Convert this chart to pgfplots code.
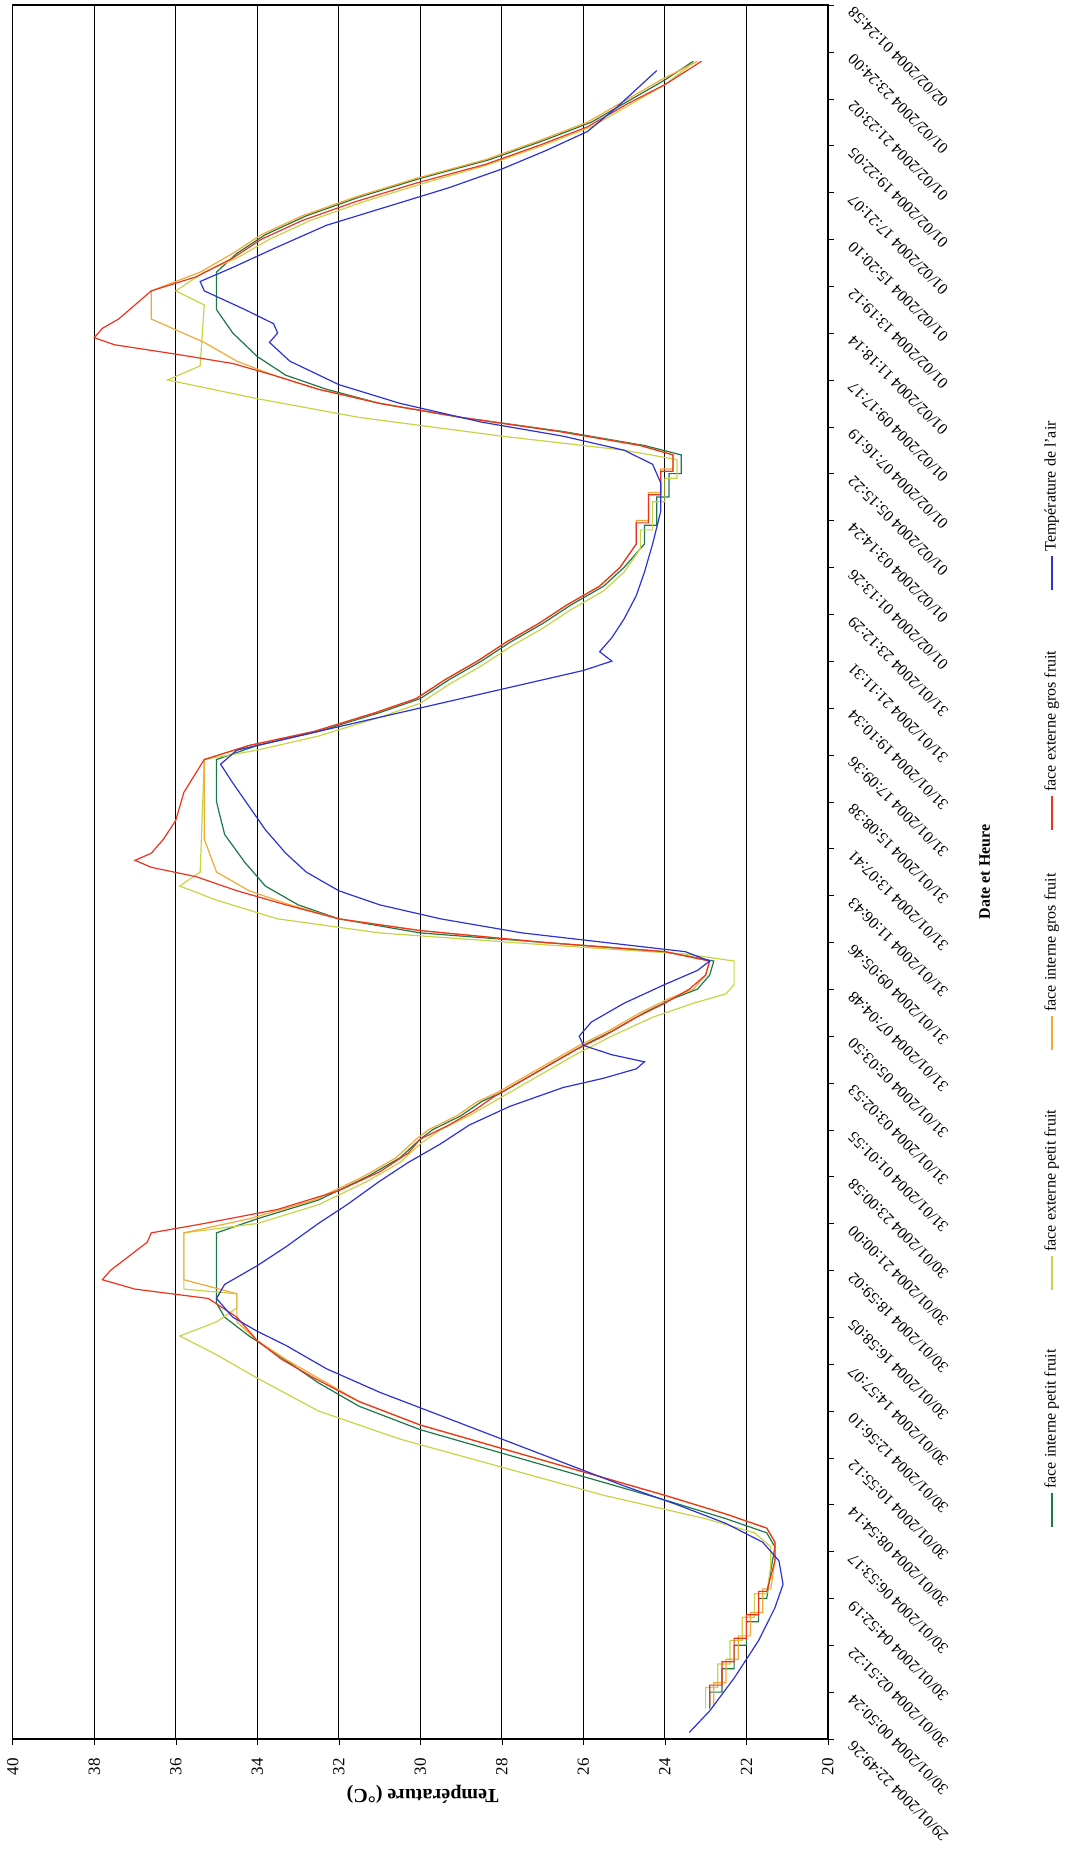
\documentclass[border=0pt]{standalone}
\usepackage{pgfplots}
\pgfplotsset{compat=1.18}
\usepackage{fontspec}
\setmainfont{Liberation Serif}
\definecolor{cgreen}{RGB}{30,120,70}
\definecolor{cyell}{RGB}{200,212,70}
\definecolor{corange}{RGB}{244,170,50}
\definecolor{cred}{RGB}{238,50,30}
\definecolor{cblue}{RGB}{45,50,215}
\begin{document}
\begin{tikzpicture}[x=0.5pt,y=0.5pt]
\useasboundingbox (-12.7,-115) rectangle (1054.3,1739);
\begin{axis}[
  at={(0,0)}, anchor=south west,
  scale only axis, width=407.6pt, height=867pt,
  xmin=20, xmax=40, x dir=reverse,
  ymin=0, ymax=37,
  xtick={20,22,...,40},
  xtick pos=bottom, ytick pos=right,
  xmajorgrids, major grid style={black, line width=0.6pt},
  axis line style={black, line width=0.8pt},
  /pgf/number format/assume math mode=true,
  xticklabel style={yshift=-3pt, rotate=90, anchor=east, font=\fontsize{8.5}{10}\selectfont},
  ytick={0,...,37},
  yticklabel pos=right,
  yticklabels={29/01/2004 22:49:26,30/01/2004 00:50:24,30/01/2004 02:51:22,30/01/2004 04:52:19,30/01/2004 06:53:17,30/01/2004 08:54:14,30/01/2004 10:55:12,30/01/2004 12:56:10,30/01/2004 14:57:07,30/01/2004 16:58:05,30/01/2004 18:59:02,30/01/2004 21:00:00,30/01/2004 23:00:58,31/01/2004 01:01:55,31/01/2004 03:02:53,31/01/2004 05:03:50,31/01/2004 07:04:48,31/01/2004 09:05:46,31/01/2004 11:06:43,31/01/2004 13:07:41,31/01/2004 15:08:38,31/01/2004 17:09:36,31/01/2004 19:10:34,31/01/2004 21:11:31,31/01/2004 23:12:29,01/02/2004 01:13:26,01/02/2004 03:14:24,01/02/2004 05:15:22,01/02/2004 07:16:19,01/02/2004 09:17:17,01/02/2004 11:18:14,01/02/2004 13:19:12,01/02/2004 15:20:10,01/02/2004 17:21:07,01/02/2004 19:22:05,01/02/2004 21:23:02,01/02/2004 23:24:00,02/02/2004 01:24:58},
  yticklabel style={xshift=6pt, anchor=east, rotate=135, font=\fontsize{8}{9}\selectfont},
  tick align=outside, major tick length=3pt, tick style={black},
  clip=false,
]
% face interne petit fruit
\addplot[cgreen, line width=0.6pt] coordinates {
(22.9,0.65)(22.9,1.0)(22.6,1.0)(22.6,1.5)(22.3,1.5)(22.3,2.0)(22.0,2.0)(22.0,2.5)(21.7,2.5)(21.7,3.0)(21.5,3.0)(21.4,3.6)(21.3,4.1)(21.5,4.4)
(22.5,4.7)(24.0,5.1)(26.0,5.6)(28.0,6.1)(30.0,6.6)(31.5,7.1)(32.5,7.6)(33.0,7.9)(33.5,8.2)(34.2,8.6)(34.8,9.0)(35.0,9.3)(35.0,10.8)
(34.0,11.1)(32.5,11.5)(31.3,12.0)(30.5,12.4)(30.0,12.8)(29.7,13.0)(29.0,13.3)(28.5,13.6)(28.0,13.8)(27.4,14.1)(26.8,14.4)(26.0,14.8)(25.3,15.1)(24.5,15.5)(23.8,15.8)(23.2,16.0)(22.9,16.3)(22.8,16.6)
(24.0,16.8)(27.0,17.0)(30.0,17.2)(32.0,17.5)(33.0,17.8)(33.8,18.2)(34.3,18.7)(34.8,19.3)(35.0,20.0)(35.0,20.9)
(34.0,21.2)(32.5,21.5)(31.0,21.9)(30.0,22.2)(29.3,22.6)(28.5,23.0)(27.8,23.4)(27.0,23.8)(26.3,24.2)(25.5,24.6)(25.0,25.0)(24.5,25.5)(24.5,25.9)(24.2,25.9)(24.2,26.5)(23.9,26.5)(23.9,27.0)(23.6,27.0)(23.6,27.4)
(24.5,27.6)(26.5,27.9)(29.0,28.2)(31.0,28.5)(32.3,28.8)(33.3,29.1)(34.0,29.5)(34.6,30.0)(35.0,30.5)(35.0,31.3)
(34.5,31.7)(33.8,32.1)(32.8,32.5)(31.5,32.9)(30.0,33.3)(28.3,33.7)(27.0,34.1)(25.8,34.5)(24.8,35.0)(24.0,35.4)(23.3,35.8)};
% face externe petit fruit
\addplot[cyell, line width=0.6pt] coordinates {
(23.0,0.65)(23.0,1.1)(22.7,1.1)(22.7,1.6)(22.4,1.6)(22.4,2.1)(22.1,2.1)(22.1,2.6)(21.8,2.6)(21.8,3.1)(21.5,3.1)(21.4,3.7)(21.4,4.1)(21.8,4.4)
(23.0,4.7)(25.5,5.2)(28.0,5.8)(30.5,6.4)(32.5,7.0)(34.0,7.7)(35.0,8.2)(35.9,8.6)(35.0,8.9)(34.5,9.2)(34.5,9.5)(35.8,9.6)(35.8,10.8)
(34.0,11.0)(32.5,11.4)(31.3,11.9)(30.5,12.3)(30.0,12.7)(29.5,13.0)(28.8,13.3)(28.2,13.6)(27.6,13.9)(27.0,14.2)(26.2,14.6)(25.3,15.0)(24.3,15.4)(23.3,15.7)(22.5,15.9)(22.3,16.1)(22.3,16.6)
(23.5,16.75)(27.0,16.95)(31.0,17.2)(33.5,17.5)(35.0,17.9)(35.9,18.2)(35.4,18.5)(35.3,20.9)
(34.0,21.1)(32.5,21.4)(31.0,21.8)(30.0,22.1)(29.3,22.5)(28.5,22.9)(27.8,23.3)(27.0,23.7)(26.3,24.1)(25.5,24.5)(25.0,24.9)(24.6,25.4)(24.6,25.8)(24.3,25.8)(24.3,26.4)(24.0,26.4)(24.0,26.9)(23.7,26.9)(23.7,27.3)
(25.0,27.5)(28.0,27.8)(31.5,28.2)(34.0,28.6)(36.2,29.0)(35.4,29.3)(35.3,30.6)(36.0,30.9)(35.3,31.3)
(34.5,31.6)(33.7,32.0)(32.7,32.4)(31.4,32.8)(29.9,33.2)(28.3,33.6)(27.0,34.0)(25.8,34.4)(24.8,34.9)(24.0,35.3)(23.4,35.7)};
% face interne gros fruit
\addplot[corange, line width=0.6pt] coordinates {
(22.8,0.7)(22.8,1.2)(22.5,1.2)(22.5,1.7)(22.2,1.7)(22.2,2.2)(21.9,2.2)(21.9,2.7)(21.6,2.7)(21.6,3.2)(21.4,3.2)(21.3,3.8)(21.3,4.2)(21.5,4.5)
(22.5,4.8)(24.0,5.2)(26.0,5.7)(28.0,6.2)(30.0,6.7)(31.5,7.2)(32.5,7.7)(33.3,8.1)(34.0,8.5)(34.5,8.9)(34.5,9.5)(35.8,9.8)(35.8,10.8)
(34.2,11.1)(32.6,11.5)(31.4,12.0)(30.6,12.4)(30.1,12.8)(29.8,13.0)(29.1,13.3)(28.6,13.6)(28.1,13.8)(27.5,14.1)(26.9,14.4)(26.1,14.8)(25.4,15.1)(24.6,15.5)(23.9,15.8)(23.3,16.0)(23.0,16.3)(22.9,16.6)
(24.0,16.8)(27.0,17.0)(30.0,17.25)(32.0,17.5)(33.2,17.8)(34.2,18.1)(35.0,18.5)(35.3,19.2)(35.3,20.9)
(34.2,21.2)(32.6,21.5)(31.1,21.9)(30.1,22.2)(29.4,22.6)(28.6,23.0)(27.9,23.4)(27.1,23.8)(26.4,24.2)(25.6,24.6)(25.1,25.0)(24.7,25.5)(24.7,26.0)(24.4,26.0)(24.4,26.6)(24.1,26.6)(24.1,27.1)(23.8,27.1)(23.8,27.4)
(24.6,27.6)(26.6,27.9)(29.0,28.2)(31.0,28.5)(32.5,28.8)(33.6,29.1)(34.5,29.4)(35.3,29.8)(36.6,30.3)(36.6,30.9)(35.4,31.3)
(34.6,31.7)(33.9,32.1)(32.9,32.5)(31.6,32.9)(30.1,33.3)(28.4,33.7)(27.1,34.1)(25.9,34.5)(24.9,35.0)(24.1,35.4)(23.2,35.8)};
% face externe gros fruit
\addplot[cred, line width=0.6pt] coordinates {
(22.9,0.7)(22.9,1.15)(22.6,1.15)(22.6,1.65)(22.3,1.65)(22.3,2.15)(22.0,2.15)(22.0,2.65)(21.7,2.65)(21.7,3.15)(21.5,3.15)(21.3,3.8)(21.3,4.2)(21.5,4.5)
(22.5,4.8)(24.0,5.2)(26.0,5.7)(28.0,6.2)(30.0,6.7)(31.5,7.2)(32.6,7.7)(33.4,8.1)(34.0,8.5)(34.5,9.0)(35.2,9.4)(37.0,9.6)(37.8,9.8)(37.6,10.0)(37.3,10.2)(37.0,10.4)(36.7,10.6)(36.6,10.8)
(35.3,11.0)(33.5,11.3)(32.0,11.7)(31.0,12.1)(30.3,12.5)(30.0,12.8)(29.3,13.1)(28.7,13.4)(28.2,13.7)(27.6,14.0)(27.0,14.3)(26.2,14.7)(25.5,15.0)(24.7,15.4)(24.0,15.7)(23.4,16.0)(23.0,16.3)(22.9,16.6)
(24.0,16.8)(27.0,17.0)(30.0,17.25)(32.0,17.5)(33.3,17.8)(34.5,18.1)(35.5,18.4)(36.6,18.6)(37.0,18.75)(36.6,18.9)(36.3,19.2)(36.0,19.6)(35.8,20.2)(35.3,20.9)
(34.2,21.2)(32.6,21.5)(31.1,21.9)(30.1,22.2)(29.4,22.6)(28.6,23.0)(27.9,23.4)(27.1,23.8)(26.4,24.2)(25.6,24.6)(25.1,25.0)(24.7,25.5)(24.7,25.95)(24.4,25.95)(24.4,26.55)(24.1,26.55)(24.1,27.05)(23.8,27.05)(23.8,27.4)
(24.6,27.6)(26.6,27.9)(29.0,28.2)(31.0,28.5)(32.5,28.8)(33.6,29.1)(34.6,29.35)(36.0,29.55)(37.5,29.75)(38.0,29.9)(37.8,30.1)(37.4,30.3)(37.0,30.6)(36.6,30.9)(35.5,31.2)
(34.6,31.6)(33.9,32.0)(32.9,32.4)(31.6,32.8)(30.1,33.2)(28.4,33.6)(27.1,34.0)(25.9,34.4)(24.9,34.9)(24.0,35.3)(23.1,35.8)};
% Temperature de l'air
\addplot[cblue, line width=0.6pt] coordinates {
(23.4,0.14)(22.9,0.6)(22.3,1.3)(21.7,2.1)(21.3,2.8)(21.1,3.3)(21.2,3.8)(21.6,4.2)(22.5,4.6)(23.7,5.0)(25.0,5.4)(26.5,5.9)(28.0,6.4)(29.5,6.9)(31.0,7.4)(32.3,7.9)(33.3,8.4)(34.0,8.7)(34.6,9.0)(35.0,9.4)(34.8,9.7)(34.0,10.1)(33.3,10.5)(32.5,11.0)(31.8,11.4)(31.0,11.9)(30.3,12.3)(29.5,12.7)(28.8,13.1)(27.8,13.5)(26.5,13.9)(25.5,14.1)(24.7,14.3)(24.5,14.45)(25.3,14.6)(26.0,14.8)(26.1,15.0)(25.8,15.3)(25.0,15.7)(24.0,16.1)(23.2,16.4)(22.9,16.6)(23.5,16.8)(25.5,17.0)(27.5,17.2)(29.5,17.5)(31.0,17.8)(32.0,18.1)(32.8,18.5)(33.3,18.9)(33.8,19.4)(34.2,19.9)(34.6,20.4)(34.9,20.8)(34.5,21.1)(33.0,21.4)(31.5,21.7)(30.0,22.0)(28.5,22.3)(27.0,22.6)(26.0,22.8)(25.3,23.0)(25.6,23.2)(25.3,23.5)(25.0,23.9)(24.7,24.4)(24.5,24.9)(24.3,25.5)(24.1,26.2)(24.1,26.8)(24.3,27.2)(25.0,27.5)(26.5,27.8)(28.5,28.1)(30.5,28.5)(32.0,28.9)(33.2,29.4)(33.7,29.8)(33.5,30.0)(33.6,30.2)(34.3,30.5)(35.3,30.9)(35.4,31.1)(34.6,31.4)(33.6,31.8)(32.3,32.3)(30.8,32.7)(29.3,33.1)(28.0,33.5)(26.9,33.9)(25.9,34.3)(25.2,34.8)(24.7,35.2)(24.2,35.6)};
\end{axis}
% axis title
\node[rotate=180, inner sep=0pt, font=\bfseries\fontsize{10}{12}\selectfont] at (410,-55) {Température (°C)};
% legend
\foreach \yy/\col/\txt in {1527/cgreen/face interne petit fruit, 1290/cyell/face externe petit fruit, 1050/corange/face interne gros fruit, 830/cred/face externe gros fruit, 590/cblue/Température de l'air}{
  \draw[\col, line width=1pt] (1039,1739-\yy) -- (1039,1739-\yy+34);
  \node[rotate=90, anchor=west, inner sep=0pt, font=\fontsize{8}{10}\selectfont] at (1039,1739-\yy+38) {\txt};
}
\node[rotate=90, inner sep=0pt, font=\bfseries\fontsize{8}{10}\selectfont] at (972,867) {Date et Heure};
\end{tikzpicture}
\end{document}
